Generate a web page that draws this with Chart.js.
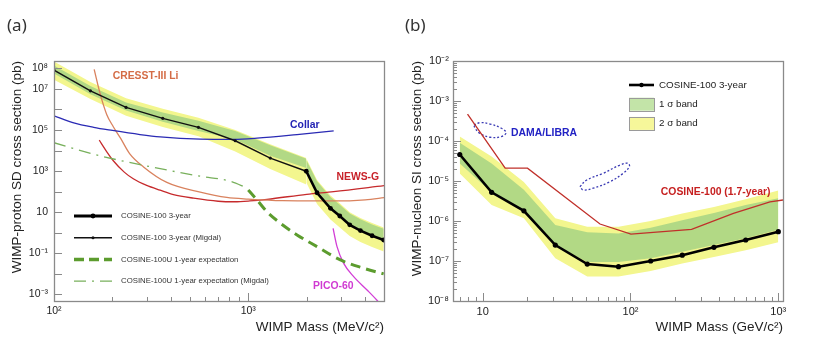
<!DOCTYPE html>
<html>
<head>
<meta charset="utf-8">
<script src="https://cdn.jsdelivr.net/npm/chart.js@4.4.1/dist/chart.umd.min.js"></script>
<style>
  html, body { margin: 0; padding: 0; background: #fff; }
  #wrap { position: relative; width: 823px; height: 347px; overflow: hidden; }
  #wrap canvas { position: absolute; top: 0; }
  .tag { position: absolute; font-family: "Noto Sans", "Open Sans", sans-serif; font-size: 17px; color: #333; line-height: 20px; }
</style>
</head>
<body>
<div id="wrap">
  <canvas id="sd" width="400" height="347" style="left:0"></canvas>
  <canvas id="si" width="423" height="347" style="left:400px"></canvas>
  <div class="tag" style="left:7px;top:15px">(a)</div>
  <div class="tag" style="left:405px;top:15px">(b)</div>
</div>
<script>
// ---------- (a) WIMP-proton SD cross section (pb) vs WIMP mass (MeV/c^2) ----------
const migdalMass  = [100, 154, 235, 363, 554, 857, 1298, 1990];
const migdalLimit = [8.3e7, 8.1e6, 1.26e6, 3.7e5, 1.35e5, 3.0e4, 4.3e3, 980];
const migdal2sUp  = [2.2e8, 2.2e7, 3.5e6, 1.1e6, 4.0e5, 1.0e5, 2.0e4, 4.3e3];
const migdal2sLo  = [2.8e7, 3.2e6, 5.0e5, 1.4e5, 5.0e4, 8.9e3, 1.26e3, 2.2e2];
const migdal1sUp  = [1.4e8, 1.4e7, 2.2e6, 7.1e5, 2.8e5, 8.9e4, 1.8e4, 4.0e3];
const migdal1sLo  = [5.6e7, 5.6e6, 8.9e5, 2.5e5, 8.9e4, 3.5e4, 5.6e3, 1.4e3];

const stdMass  = [1990, 2260, 2650, 2960, 3330, 3780, 4340, 4980];
const stdLimit = [980, 88, 15.4, 6.5, 2.4, 1.26, 0.71, 0.44];
const std2sUp  = [4.1e3, 370, 65, 27, 10, 5.2, 3.0, 1.8];
const std2sLo  = [280, 25, 4.4, 1.8, 0.68, 0.35, 0.2, 0.12];
const std1sUp  = [3.5e3, 320, 55, 23, 8.5, 4.5, 2.5, 1.55];
const std1sLo  = [1.1e3, 100, 17, 7.2, 2.7, 1.4, 0.8, 0.49];

const collarMass  = [100, 125, 160, 200, 277, 352, 566, 840, 1110, 1783, 2754];
const collarLimit = [4.9e5, 2.3e5, 1.35e5, 9.5e4, 6.0e4, 4.6e4, 3.6e4, 3.5e4, 4.0e4, 6.0e4, 9.1e4];

const cresstMass  = [161, 173, 187, 202, 220, 245, 289, 381, 566, 776, 1000, 1500, 2754, 4000, 5080];
const cresstLimit = [8.9e7, 5.6e6, 5.6e5, 1.45e5, 4.0e4, 7.1e3, 1.6e3, 280, 95, 52, 43, 36, 35, 40, 52];

const newsgMass  = [171, 187, 202, 230, 256, 300, 352, 412, 523, 700, 850, 1020, 1250, 2000, 2754, 5080];
const newsgLimit = [3.2e4, 8.7e3, 3.2e3, 890, 420, 200, 117, 72, 48, 34, 32, 35, 42, 74, 100, 200];

const picoMass  = [2735, 2865, 3100, 3490, 4090, 4600, 4900];
const picoLimit = [1.62, 0.21, 0.032, 0.0072, 0.00162, 0.00051, 0.00025];

const expMigdalMass  = [100, 172, 330, 566, 808, 985];
const expMigdalLimit = [2.4e4, 5.6e3, 1.48e3, 560, 320, 150];

const expMass  = [1000, 1110, 1247, 1463, 1783, 2260, 2980, 3930, 4980];
const expLimit = [120, 39, 10.5, 2.9, 0.78, 0.21, 0.047, 0.0186, 0.0098];

const sdXLabelled = [100, 1000];
const sdYLabelled = [1e8, 1e7, 1e5, 1e3, 10, 0.1, 1e-3];

// ---------- (b) WIMP-nucleon SI cross section (pb) vs WIMP mass (GeV/c^2) ----------
const siMass  = [7, 11.5, 19, 31, 51, 83, 137, 224, 367, 602, 1000];
const siLimit = [4.6e-5, 5.2e-6, 1.8e-6, 2.5e-7, 8.4e-8, 7.2e-8, 1.0e-7, 1.4e-7, 2.2e-7, 3.35e-7, 5.4e-7];
const si2sUp  = [1.29e-4, 4.1e-5, 9.5e-6, 1.17e-6, 7.2e-7, 7.2e-7, 1.0e-6, 1.55e-6, 2.24e-6, 3.5e-6, 5.8e-6];
const si1sUp  = [9.1e-5, 2.75e-5, 6.0e-6, 7.9e-7, 5.2e-7, 4.9e-7, 6.8e-7, 1.05e-6, 1.58e-6, 2.5e-6, 3.7e-6];
const si1sLo  = [2.75e-5, 5.2e-6, 1.8e-6, 2.5e-7, 9.5e-8, 9.5e-8, 1.17e-7, 1.7e-7, 2.5e-7, 3.7e-7, 6.0e-7];
const si2sLo  = [1.55e-5, 2.5e-6, 1.17e-6, 1.17e-7, 4.1e-8, 4.1e-8, 5.6e-8, 8.7e-8, 1.26e-7, 1.86e-7, 2.95e-7];

const prevMass  = [7.9, 14.2, 20.1, 62.2, 100.7, 259, 497, 879, 1076];
const prevLimit = [4.7e-4, 2.1e-5, 2.1e-5, 8.4e-7, 4.7e-7, 6.2e-7, 1.55e-6, 3.0e-6, 3.35e-6];

const damaLowMass  = [8.73, 9.59, 11.2, 13.4, 14.4, 13.4, 11.2, 9.59, 8.87, 8.73];
const damaLowXsec  = [2.51e-4, 2.87e-4, 2.66e-4, 2.08e-4, 1.62e-4, 1.29e-4, 1.24e-4, 1.55e-4, 2.09e-4, 2.51e-4];
const damaHighMass = [45.5, 50.6, 65.5, 84.9, 96.6, 98.2, 89.3, 72.6, 56.0, 48.0, 45.5];
const damaHighXsec = [7.2e-6, 1.06e-5, 1.56e-5, 2.51e-5, 2.77e-5, 2.28e-5, 1.56e-5, 9.6e-6, 6.6e-6, 5.96e-6, 7.2e-6];

const siXLabelled = [10, 100, 1000];
const siYLabelled = [1e-2, 1e-3, 1e-4, 1e-5, 1e-6, 1e-7, 1e-8];

// ---------- styling ----------
const YELLOW = '#f3f68e';
const GREEN = '#b2d985';
const AXIS = '#8a8a8a';
const FONT = '"Liberation Sans", Arial, Helvetica, sans-serif';

const pts = (xs, ys) => xs.map((x, i) => ({ x, y: ys[i] }));

function band(xs, up, lo, color, order) {
  return [
    { data: pts(xs, up), borderColor: 'rgba(0,0,0,0)', borderWidth: 0, pointRadius: 0, fill: '+1', backgroundColor: color, order, tension: 0 },
    { data: pts(xs, lo), borderColor: 'rgba(0,0,0,0)', borderWidth: 0, pointRadius: 0, fill: false, order, tension: 0 }
  ];
}
function curve(xs, ys, color, width, order, extra) {
  return Object.assign({
    data: pts(xs, ys), borderColor: color, borderWidth: width, pointRadius: 0,
    fill: false, cubicInterpolationMode: 'monotone', order
  }, extra || {});
}

const SUP = { '-': '\u207B', '0': '\u2070', '1': '\u00B9', '2': '\u00B2', '3': '\u00B3', '4': '\u2074',
              '5': '\u2075', '6': '\u2076', '7': '\u2077', '8': '\u2078', '9': '\u2079' };
function powLabel(v) {
  const e = Math.round(Math.log10(v));
  if (e === 1) return '10';
  return '10' + String(e).split('').map(c => SUP[c]).join('');
}
const near = (a, b) => Math.abs(Math.log10(a) - Math.log10(b)) < 1e-6;

function tickList(lo, hi, minors) {
  const out = [];
  for (let e = Math.floor(Math.log10(lo)) - 1; e <= Math.ceil(Math.log10(hi)); e++) {
    const mults = minors ? [1, 2, 3, 4, 5, 6, 7, 8, 9] : [1];
    for (const m of mults) {
      const v = m * Math.pow(10, e);
      if (v >= lo * 0.9999 && v <= hi * 1.0001) out.push({ value: v, major: m === 1 });
    }
  }
  return out;
}

function logAxis(min, max, minors, labelled, fit, title, titlePad, tickPad, fontSize) {
  return {
    type: 'logarithmic', min, max,
    grid: { display: false, drawTicks: false, tickLength: 0 },
    border: { display: false },
    afterBuildTicks: s => { s.ticks = tickList(min, max, minors); },
    afterFit: fit,
    ticks: {
      autoSkip: false, maxRotation: 0, padding: tickPad, color: '#222',
      font: { family: FONT, size: fontSize },
      callback: v => labelled.some(l => near(l, v)) ? powLabel(v) : ''
    },
    title: { display: true, text: title, align: 'end', color: '#222', padding: titlePad,
             font: { family: FONT, size: 13.5 } }
  };
}

// inward tick marks and the plot frame
const framePlugin = {
  id: 'frame',
  afterDatasetsDraw(chart, args, o) {
    const { ctx, chartArea: a } = chart;
    ctx.save();
    ctx.strokeStyle = AXIS;
    ctx.lineWidth = 1;
    for (const id of ['x', 'y']) {
      const s = chart.scales[id];
      const lens = o[id];
      for (const t of s.ticks) {
        const p = Math.round(s.getPixelForValue(t.value)) + 0.5;
        const len = t.major ? lens[0] : lens[1];
        ctx.beginPath();
        if (id === 'x') { ctx.moveTo(p, a.bottom); ctx.lineTo(p, a.bottom - len); }
        else { ctx.moveTo(a.left, p); ctx.lineTo(a.left + len, p); }
        ctx.stroke();
      }
    }
    ctx.lineWidth = 1.3;
    ctx.strokeRect(Math.round(a.left) + 0.5, Math.round(a.top) + 0.5,
                   Math.round(a.right - a.left), Math.round(a.bottom - a.top));
    ctx.restore();
  }
};

// curve names written inside the plot, placed in data coordinates
const notesPlugin = {
  id: 'notes',
  afterDatasetsDraw(chart, args, o) {
    const { ctx, scales: { x, y } } = chart;
    for (const n of o.items || []) {
      ctx.save();
      ctx.font = `bold ${n.size}px ${FONT}`;
      ctx.fillStyle = n.color;
      ctx.textAlign = 'center';
      ctx.textBaseline = 'middle';
      ctx.fillText(n.text, x.getPixelForValue(n.x), y.getPixelForValue(n.y));
      ctx.restore();
    }
  }
};

// legend box drawn inside the plot
const keyPlugin = {
  id: 'key',
  afterDraw(chart, args, o) {
    if (!o.items) return;
    const ctx = chart.ctx;
    ctx.save();
    o.items.forEach((it, i) => {
      const y = o.y + i * o.gap;
      if (it.box) {
        ctx.fillStyle = it.box;
        ctx.fillRect(o.x, y - o.boxH / 2, o.w, o.boxH);
        ctx.strokeStyle = '#9a9a9a';
        ctx.lineWidth = 1;
        ctx.strokeRect(o.x + 0.5, Math.round(y - o.boxH / 2) + 0.5, o.w, o.boxH);
      } else {
        ctx.strokeStyle = it.color;
        ctx.lineWidth = it.width;
        ctx.setLineDash(it.dash || []);
        ctx.beginPath();
        ctx.moveTo(o.x, y);
        ctx.lineTo(o.x + o.w, y);
        ctx.stroke();
        ctx.setLineDash([]);
        if (it.dot) {
          ctx.fillStyle = it.color;
          ctx.beginPath();
          ctx.arc(o.x + o.w / 2, y, it.dot, 0, Math.PI * 2);
          ctx.fill();
        }
      }
      ctx.fillStyle = o.color;
      ctx.font = `${o.size}px ${FONT}`;
      ctx.textBaseline = 'middle';
      ctx.fillText(it.text, o.x + o.w + o.pad, y);
    });
    ctx.restore();
  }
};

Chart.register(framePlugin, notesPlugin, keyPlugin);

const common = {
  responsive: false, animation: false, events: [],
  plugins: { legend: { display: false }, tooltip: { enabled: false } }
};

// ---------- panel (a) ----------
new Chart(document.getElementById('sd'), {
  type: 'line',
  data: {
    datasets: [
      ...band(migdalMass, migdal2sUp, migdal2sLo, YELLOW, 20),
      ...band(stdMass, std2sUp, std2sLo, YELLOW, 20),
      ...band(migdalMass, migdal1sUp, migdal1sLo, GREEN, 19),
      ...band(stdMass, std1sUp, std1sLo, GREEN, 19),
      curve(collarMass, collarLimit, '#2a2ab4', 1.3, 5),
      curve(cresstMass, cresstLimit, '#d9825e', 1.3, 5),
      curve(newsgMass, newsgLimit, '#c62a2c', 1.3, 5),
      curve(picoMass, picoLimit, '#d23ed6', 1.3, 5),
      curve(expMigdalMass, expMigdalLimit, '#78b05c', 1.3, 4, { borderDash: [12, 6, 2, 6] }),
      curve(expMass, expLimit, '#5c9c2e', 3, 4, { borderDash: [10, 6] }),
      curve(migdalMass, migdalLimit, '#111', 1.4, 1, { cubicInterpolationMode: 'default', tension: 0, pointRadius: 1.6, pointBackgroundColor: '#111', pointBorderWidth: 0 }),
      curve(stdMass, stdLimit, '#000', 2.6, 0, { cubicInterpolationMode: 'default', tension: 0, pointRadius: 2.4, pointBackgroundColor: '#000', pointBorderWidth: 0 })
    ]
  },
  options: Object.assign({}, common, {
    layout: { padding: { left: 0, top: 61, right: 16, bottom: 0 } },
    scales: {
      x: logAxis(100, 5000, true, sdXLabelled, s => { s.height = 46; }, 'WIMP Mass (MeV/c\u00B2)', { top: 0, bottom: 12 }, 4, 10.5),
      y: logAxis(4.7e-4, 2.3e8, false, sdYLabelled, s => { s.width = 54; }, 'WIMP-proton SD cross section (pb)', { top: 9, bottom: 0 }, 6, 10.5)
    },
    plugins: Object.assign({}, common.plugins, {
      frame: { x: [8, 4], y: [8, 8] },
      notes: { items: [
        { text: 'CRESST-III Li', x: 296, y: 4.2e7, color: '#d46c46', size: 10.4 },
        { text: 'Collar', x: 1955, y: 1.74e5, color: '#2424b4', size: 10.4 },
        { text: 'NEWS-G', x: 3665, y: 513, color: '#c8222a', size: 10.4 },
        { text: 'PICO-60', x: 2741, y: 2.5e-3, color: '#d03ad2', size: 10.4 }
      ] },
      key: {
        x: 74, y: 216, gap: 21.7, w: 38, pad: 9, size: 7.8, color: '#333',
        items: [
          { text: 'COSINE-100 3-year', color: '#000', width: 3, dot: 2.4 },
          { text: 'COSINE-100 3-year (Migdal)', color: '#111', width: 1.4, dot: 1.5 },
          { text: 'COSINE-100U 1-year expectation', color: '#5c9c2e', width: 3.5, dash: [10, 5] },
          { text: 'COSINE-100U 1-year expectation (Migdal)', color: '#78b05c', width: 1.3, dash: [12, 6, 2, 6] }
        ]
      }
    })
  })
});

// ---------- panel (b) ----------
new Chart(document.getElementById('si'), {
  type: 'line',
  data: {
    datasets: [
      ...band(siMass, si2sUp, si2sLo, YELLOW, 20),
      ...band(siMass, si1sUp, si1sLo, GREEN, 19),
      curve(prevMass, prevLimit, '#c0302a', 1.3, 5, { cubicInterpolationMode: 'default', tension: 0 }),
      curve(damaLowMass, damaLowXsec, '#3a3ab4', 1.3, 5, { cubicInterpolationMode: 'default', tension: 0.4, borderDash: [2, 2] }),
      curve(damaHighMass, damaHighXsec, '#3a3ab4', 1.3, 5, { cubicInterpolationMode: 'default', tension: 0.4, borderDash: [2, 2] }),
      curve(siMass, siLimit, '#000', 2.6, 0, { cubicInterpolationMode: 'default', tension: 0, pointRadius: 2.6, pointBackgroundColor: '#000', pointBorderWidth: 0 })
    ]
  },
  options: Object.assign({}, common, {
    layout: { padding: { left: 0, top: 61, right: 40, bottom: 0 } },
    scales: {
      x: logAxis(6.3, 1076, true, siXLabelled, s => { s.height = 46; }, 'WIMP Mass (GeV/c\u00B2)', { top: 0, bottom: 12 }, 4, 11),
      y: logAxis(1e-8, 1e-2, true, siYLabelled, s => { s.width = 53; }, 'WIMP-nucleon SI cross section (pb)', { top: 9, bottom: 0 }, 4, 11)
    },
    plugins: Object.assign({}, common.plugins, {
      frame: { x: [8, 4], y: [8, 4] },
      notes: { items: [
        { text: 'DAMA/LIBRA', x: 26, y: 1.56e-4, color: '#2222c4', size: 10.4 },
        { text: 'COSINE-100 (1.7-year)', x: 377, y: 5.4e-6, color: '#c62020', size: 10.4 }
      ] },
      key: {
        x: 229, y: 85, gap: 19.2, w: 25, pad: 5, size: 9.8, color: '#222', boxH: 13,
        items: [
          { text: 'COSINE-100 3-year', color: '#000', width: 2.6, dot: 2.2 },
          { text: '1 \u03C3 band', box: '#c3e4a8' },
          { text: '2 \u03C3 band', box: '#f6f79a' }
        ]
      }
    })
  })
});
</script>
</body>
</html>
